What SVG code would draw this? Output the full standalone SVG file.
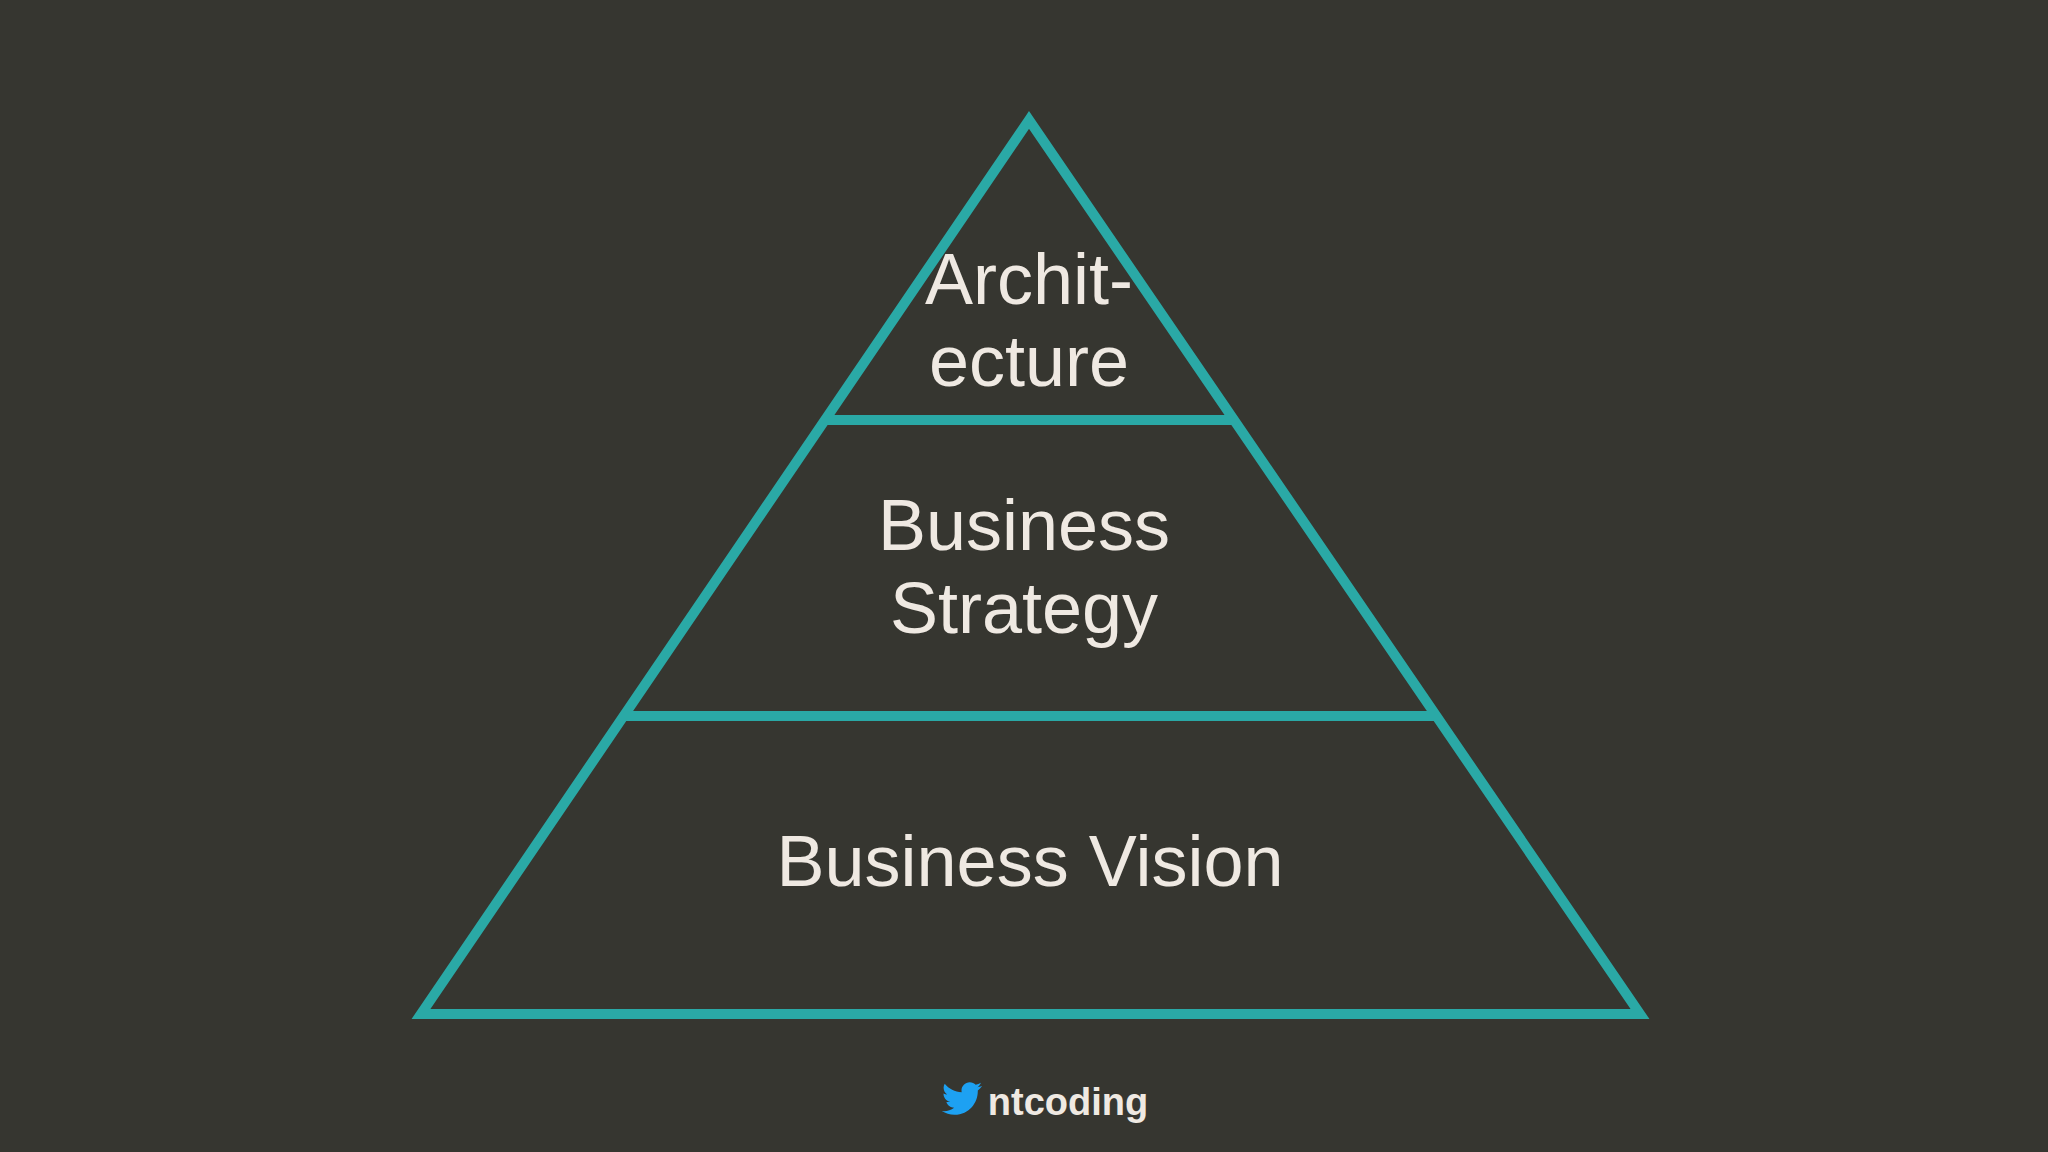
<svg xmlns="http://www.w3.org/2000/svg" width="2048" height="1152" viewBox="0 0 2048 1152">
<style>
.ln{stroke:#2aa9a6;stroke-width:10;fill:none}
.t{font-family:"Liberation Sans",Arial,sans-serif;font-size:72px;fill:#efe9e2;text-anchor:middle}
</style>
<rect width="2048" height="1152" fill="#363630"/>
<g id="connectors">
<polygon class="ln" points="1029,120 421,1014 1640,1014" stroke-linejoin="miter"/>
<line class="ln" x1="826" y1="420" x2="1232" y2="420"/>
<line class="ln" x1="624" y1="716" x2="1434" y2="716"/>
</g>
<g id="top"><text class="t" x="1029" y="304">Archit-</text><text class="t" x="1029" y="386">ecture</text></g>
<g id="middle"><text class="t" x="1024" y="550">Business</text><text class="t" x="1024" y="633">Strategy</text></g>
<g id="bottom"><text class="t" x="1030" y="886">Business Vision</text></g>
<g id="footer">
<path fill="#1da1f2" d="M982,1086c-1.5,0.7-3,1.1-4.7,1.3c1.7-1,3-2.6,3.6-4.5c-1.6,0.9-3.3,1.6-5.2,2c-1.5-1.6-3.6-2.6-6-2.6c-4.5,0-8.2,3.7-8.2,8.2c0,0.6,0.1,1.3,0.2,1.9c-6.8-0.3-12.9-3.6-17-8.6c-0.7,1.2-1.1,2.6-1.1,4.1c0,2.8,1.5,5.4,3.6,6.8c-1.3,0-2.6-0.4-3.7-1v0.1c0,4,2.8,7.3,6.6,8.1c-0.7,0.2-1.4,0.3-2.2,0.3c-0.5,0-1,0-1.5-0.1c1,3.3,4.1,5.7,7.7,5.7c-2.8,2.2-6.4,3.5-10.2,3.5c-0.7,0-1.3,0-2-0.1c3.6,2.3,7.9,3.7,12.6,3.7c15.1,0,23.3-12.5,23.3-23.3l0-1.1c1.6-1.2,3-2.6,4.1-4.2z"/>
<text x="1068" y="1115" font-family="Liberation Sans,Arial,sans-serif" font-weight="bold" font-size="38" fill="#efe9e2" text-anchor="middle">ntcoding</text>
</g>
</svg>
